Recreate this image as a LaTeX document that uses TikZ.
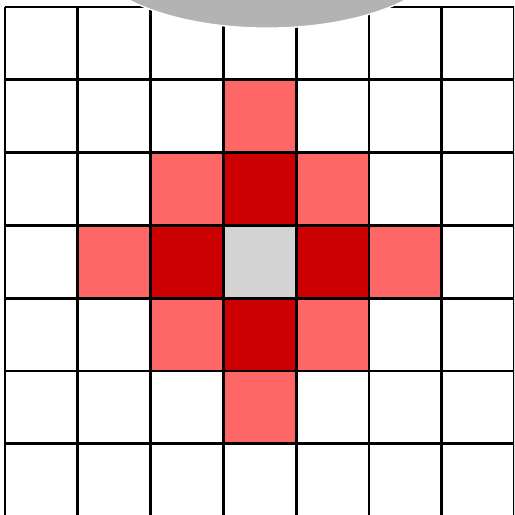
\documentclass[tikz,border=0pt]{standalone}
\usepackage{xcolor}
\definecolor{cellnear}{RGB}{204,0,0}
\definecolor{cellfar}{RGB}{255,102,102}
\definecolor{cellmid}{RGB}{211,211,211}
\definecolor{capgray}{RGB}{179,179,179}

\begin{document}
\begin{tikzpicture}[x=0.7280cm, y=0.7280cm,
  gridline/.style={black, line width=0.8pt},
  near/.style={fill=cellnear},
  far/.style={fill=cellfar}
]
\useasboundingbox (-0.069,0.022) rectangle (6.992,7.096);
\clip (-0.069,0.022) rectangle (6.992,7.096);
% coloured cells, (column,row) counted from the top left
\foreach \c/\r in {3/1, 2/2, 4/2, 1/3, 5/3, 2/4, 4/4, 3/5}
  \path[far] (\c,6-\r) rectangle ++(1,1);
\foreach \c/\r in {3/2, 2/3, 4/3, 3/4}
  \path[near] (\c,6-\r) rectangle ++(1,1);
\path[fill=cellmid] (3,3) rectangle (4,4);
% grid
\draw[gridline, step=1] (0,0) grid (7,7);
% cap at the top
\draw[fill=capgray, draw=white, line width=0.4pt] (3.6,7.78) ellipse (2.47 and 1.07);
\end{tikzpicture}
\end{document}
